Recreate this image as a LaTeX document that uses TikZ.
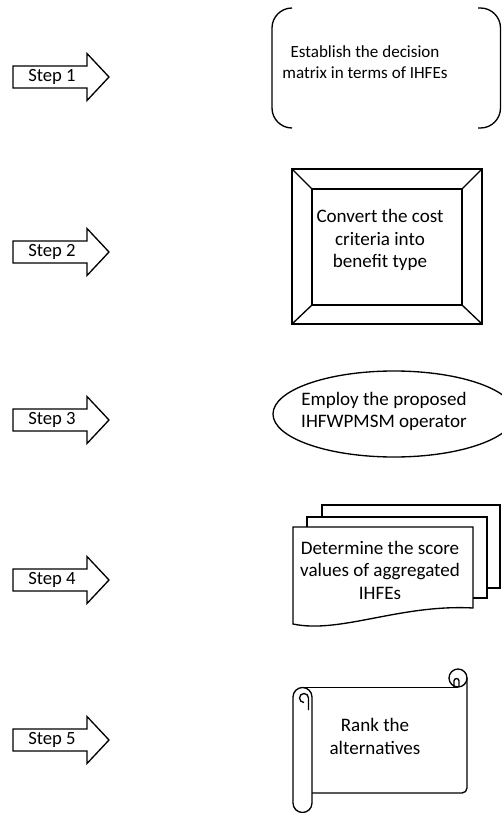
\documentclass[tikz,border=0pt]{standalone}
\usepackage{fontspec}
\setmainfont{Carlito}
\usetikzlibrary{shapes.geometric}

\tikzset{
  shapeline/.style={draw, line width=1pt, line join=miter},
  blockarrow/.style={shapeline, fill=white},
  boxtext/.style={align=center, font=\fontsize{14.3}{16.9}\selectfont, inner sep=0pt},
  smallboxtext/.style={boxtext, font=\fontsize{12.8}{15.75}\selectfont},
  steplabel/.style={font=\fontsize{14}{16}\selectfont, inner sep=0pt},
}

\begin{document}
\begin{tikzpicture}[x=0.75pt,y=-0.75pt]
  \useasboundingbox (0,0) rectangle (502,813);

  % step arrows
  \foreach \yy/\num in {77/1,252/2,420/3,580/4,740/5}
  {
    \draw[blockarrow] (13,\yy-11) -- (87,\yy-11) -- (87,\yy-23.5) -- (109,\yy)
      -- (87,\yy+23.5) -- (87,\yy+11) -- (13,\yy+11) -- cycle;
    \node[steplabel] (step\num) at (52,\yy) {Step \num};
  }

  % step 1: bracket pair
  \draw[shapeline, rounded corners=15pt] (292,8) -- (272,8) -- (272,128) -- (292,128);
  \draw[shapeline, rounded corners=15pt] (478,8) -- (500.5,8) -- (500.5,128) -- (478,128);
  \node[smallboxtext] (establish) at (365,62.5) {Establish the decision\\matrix in terms of IHFEs};

  % step 2: bevel frame
  \draw[shapeline] (292,169) rectangle (482,324);
  \draw[shapeline] (312,189) rectangle (462,305);
  \draw[shapeline] (292,169) -- (312,189) (482,169) -- (462,189)
    (292,324) -- (312,305) (482,324) -- (462,305);
  \node[boxtext] (convert) at (380,240) {Convert the cost\\criteria into\\benefit type};

  % step 3: ellipse
  \node[shapeline, ellipse, minimum width=181.5pt, minimum height=64.5pt] (employshape) at (394,414) {};
  \node[boxtext] (employ) at (384,411.5) {Employ the proposed\\IHFWPMSM operator};

  % step 4: stacked documents
  \draw[shapeline, fill=white] (322,505) rectangle (500,588);
  \draw[shapeline, fill=white] (307,517) rectangle (487,598);
  \draw[shapeline, fill=white] (293,527) -- (473,527) -- (473,608)
    .. controls (400,604) and (340,634) .. (293,624) -- cycle;
  \node[boxtext] (determine) at (380,570) {Determine the score\\values of aggregated\\IHFEs};

  % step 5: scroll
  \draw[shapeline] (302,687.5) -- (458,687.5);
  \draw[shapeline] (458,678) circle[radius=9];
  \draw[shapeline] (454,687) -- (454,681) arc[start angle=180, end angle=360, radius=2.5] -- (459,687);
  \draw[shapeline] (467,678) -- (467,788) arc[start angle=0, end angle=90, radius=5] -- (312,793);
  \draw[shapeline, fill=white] (293,697) arc[start angle=180, end angle=360, radius=9.5]
    -- (312,803) arc[start angle=0, end angle=180, radius=9.5] -- cycle;
  \draw[shapeline] (308.5,710) -- (308.5,698) arc[start angle=0, end angle=-270, radius=4.5];
  \node[boxtext] (rank) at (375,736.5) {Rank the\\alternatives};
\end{tikzpicture}
\end{document}
